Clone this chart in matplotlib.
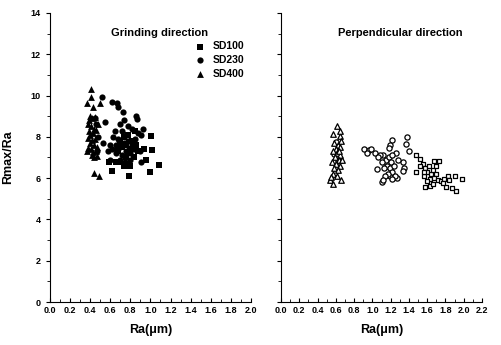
import matplotlib.pyplot as plt
import numpy as np

plt.rcParams['font.family'] = ['Liberation Sans', 'DejaVu Sans']
plt.rcParams['font.weight'] = 'bold'

# grinding direction (filled markers)
g100_x = [1.01, 1.02, 1.09, 1.00, 0.79, 0.62, 0.59, 0.72, 0.76, 0.80, 0.84, 0.78, 0.74, 0.70,
          0.68, 0.82, 0.86, 0.88, 0.94, 0.96, 0.80, 0.76, 0.70, 0.66, 0.85, 0.78, 0.74]
g100_y = [8.05, 7.35, 6.65, 6.30, 6.10, 6.35, 6.80, 7.50, 7.60, 7.40, 7.00, 6.70, 6.60, 6.80,
          7.30, 7.80, 7.60, 7.30, 7.40, 6.90, 6.60, 7.00, 7.70, 6.80, 8.30, 8.10, 8.00]
g230_x = [0.52, 0.62, 0.67, 0.68, 0.73, 0.55, 0.86, 0.87, 0.82, 0.93, 0.91, 0.63, 0.53, 0.90,
          0.91, 0.46, 0.48, 0.47, 0.45, 0.70, 0.74, 0.72, 0.76, 0.78, 0.68, 0.66, 0.70, 0.74,
          0.78, 0.82, 0.85, 0.72, 0.76, 0.80, 0.66, 0.62, 0.60, 0.58, 0.70, 0.75, 0.80, 0.84,
          0.88, 0.65, 0.60]
g230_y = [9.95, 9.70, 9.65, 9.45, 9.20, 8.70, 9.00, 8.85, 8.40, 8.40, 8.10, 8.00, 7.70, 7.30,
          6.80, 8.60, 8.00, 7.30, 8.90, 8.60, 8.80, 8.30, 8.10, 8.50, 7.90, 7.60, 7.50, 7.70,
          7.80, 7.60, 7.90, 7.10, 7.30, 7.20, 7.20, 7.40, 7.60, 7.30, 6.90, 6.80, 6.90, 7.40,
          8.20, 8.30, 6.90]
g400_x = [0.41, 0.41, 0.37, 0.43, 0.50, 0.40, 0.42, 0.45, 0.38, 0.41, 0.44, 0.39, 0.43, 0.46,
          0.40, 0.38, 0.42, 0.45, 0.40, 0.44, 0.38, 0.41, 0.37, 0.43, 0.46, 0.42, 0.44, 0.47,
          0.44, 0.49, 0.48, 0.39, 0.47]
g400_y = [10.30, 9.95, 9.65, 9.45, 9.65, 9.00, 8.90, 8.95, 8.60, 8.50, 8.40, 8.30, 8.20, 8.35,
          8.10, 7.95, 7.85, 7.90, 7.70, 7.60, 7.45, 7.40, 7.30, 7.25, 7.30, 7.10, 7.00, 7.05,
          6.25, 6.10, 8.60, 8.80, 7.50]

# perpendicular direction (open markers)
p100_x = [1.48, 1.52, 1.48, 1.67, 1.73, 1.91, 1.98, 1.92, 1.58, 1.63, 1.81, 1.87, 1.83, 1.84,
          1.55, 1.58, 1.62, 1.60, 1.64, 1.57, 1.66, 1.70, 1.63, 1.68, 1.72, 1.75, 1.78, 1.60,
          1.56, 1.70, 1.66, 1.77, 1.52]
p100_y = [7.14, 6.93, 6.30, 6.81, 6.81, 6.12, 5.96, 5.36, 5.57, 5.60, 5.57, 5.50, 6.10, 5.90,
          6.70, 6.50, 6.60, 6.30, 6.20, 6.10, 6.40, 6.20, 5.95, 6.00, 5.90, 5.85, 5.95, 5.85,
          6.30, 6.60, 5.70, 5.75, 6.60]
p230_x = [0.91, 0.96, 0.99, 0.94, 1.03, 1.21, 1.19, 1.18, 1.38, 1.37, 1.40, 1.33, 1.35, 1.34,
          1.05, 1.10, 1.26, 1.27, 1.19, 1.12, 1.15, 1.18, 1.22, 1.20, 1.16, 1.13, 1.19, 1.24,
          1.22, 1.17, 1.14, 1.25, 1.21, 1.08, 1.06, 1.10, 1.28, 1.12, 0.60, 0.62, 0.58]
p230_y = [7.41, 7.38, 7.42, 7.22, 7.23, 7.86, 7.62, 7.45, 8.00, 7.65, 7.30, 6.78, 6.49, 6.33,
          6.44, 5.79, 7.22, 6.00, 6.10, 7.10, 6.90, 7.00, 7.10, 6.80, 6.60, 6.50, 6.50, 6.60,
          6.30, 6.20, 6.10, 6.10, 5.95, 7.10, 7.00, 6.80, 6.90, 5.90, 7.75, 6.85, 7.15]
p400_x = [0.61, 0.57, 0.65, 0.54, 0.66, 0.57, 0.65, 0.58, 0.62, 0.60, 0.64, 0.57, 0.61, 0.65,
          0.59, 0.63, 0.56, 0.60, 0.64, 0.58, 0.62, 0.57, 0.61, 0.55, 0.66, 0.67, 0.63]
p400_y = [8.51, 8.15, 8.02, 5.92, 5.92, 5.72, 8.30, 7.70, 7.60, 7.40, 7.50, 7.30, 7.20, 7.10,
          7.00, 6.90, 6.80, 6.70, 6.60, 6.50, 6.40, 6.20, 6.10, 6.05, 7.80, 6.90, 7.30]

fig = plt.figure(figsize=(5.01, 3.45), dpi=100)
ax1 = fig.add_axes([0.0998, 0.1246, 0.401, 0.838])
ax2 = fig.add_axes([0.561, 0.1246, 0.401, 0.838])

ms = 20
ax1.scatter(g100_x, g100_y, marker='s', s=ms - 2, c='black', lw=0, label='SD100')
ax1.scatter(g230_x, g230_y, marker='o', s=ms, c='black', lw=0, label='SD230')
ax1.scatter(g400_x, g400_y, marker='^', s=ms + 4, c='black', lw=0, label='SD400')

ax2.scatter(p100_x, p100_y, marker='s', s=12, facecolors='white', edgecolors='black', lw=0.9)
ax2.scatter(p230_x, p230_y, marker='o', s=14, facecolors='white', edgecolors='black', lw=0.9)
ax2.scatter(p400_x, p400_y, marker='^', s=16, facecolors='white', edgecolors='black', lw=0.9)

for ax, xmax in ((ax1, 2.0), (ax2, 2.2)):
    ax.set_xlim(0, xmax)
    ax.set_ylim(0, 14)
    ax.spines['top'].set_visible(False)
    ax.spines['right'].set_visible(False)
    ax.set_xticks(np.arange(0, xmax + 0.01, 0.2))
    ax.set_xticks(np.arange(0.1, xmax, 0.2), minor=True)
    ax.set_yticks(np.arange(0, 15, 2))
    ax.set_yticks(np.arange(1, 14, 2), minor=True)
    ax.xaxis.set_major_formatter(plt.FormatStrFormatter('%.1f'))
    ax.tick_params(axis='x', direction='in', length=3, labelsize=6.5, pad=3)
    ax.tick_params(axis='x', which='minor', direction='in', length=2)
    ax.tick_params(axis='y', direction='out', length=3, labelsize=6.5)
    ax.tick_params(axis='y', which='minor', direction='out', length=2)
    ax.set_xlabel('Ra(μm)', fontsize=9, fontweight='bold', labelpad=6)

ax2.tick_params(axis='y', labelleft=False)
ax1.set_ylabel('Rmax/Ra', fontsize=9, fontweight='bold', labelpad=12)

ax1.text(0.547, 0.93, 'Grinding direction', transform=ax1.transAxes,
         ha='center', va='center', fontsize=8, fontweight='bold')
ax2.text(0.592, 0.93, 'Perpendicular direction', transform=ax2.transAxes,
         ha='center', va='center', fontsize=8, fontweight='bold')

ax1.legend(loc='upper left', bbox_to_anchor=(0.69, 0.92), frameon=False,
           fontsize=7.5, handletextpad=0.6, labelspacing=0.35, borderpad=0,
           handlelength=1.2, scatterpoints=1)

fig.savefig('out.png', dpi=100)
